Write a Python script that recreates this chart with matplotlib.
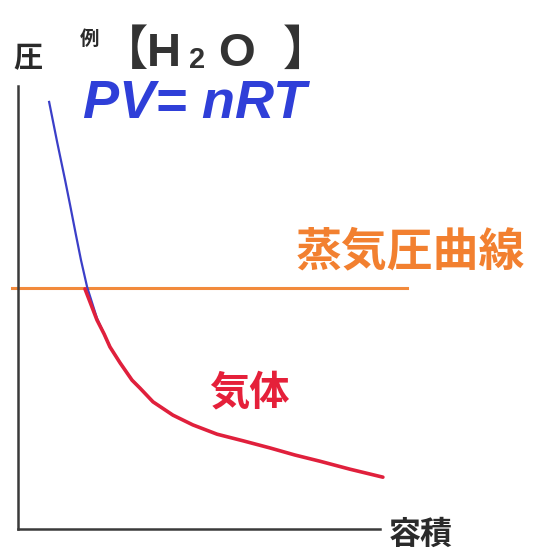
import matplotlib
matplotlib.use("Agg")
import matplotlib.pyplot as plt

plt.rcParams["font.family"] = ["Noto Sans CJK JP", "DejaVu Sans"]

# ideal gas curve (PV = nRT), arbitrary units: volume 0..10, pressure 0..10
vol_ideal = [0.86, 0.97, 1.08, 1.19, 1.30, 1.44, 1.60, 1.74, 1.91,
             2.18, 2.54, 2.82, 3.15, 3.37, 3.73, 4.28]
pres_ideal = [9.64, 9.19, 8.74, 8.31, 7.88, 7.31, 6.64, 6.07, 5.46,
              4.76, 4.11, 3.75, 3.36, 3.18, 2.87, 2.57]

# real gas (H2O) below the vapour pressure
vol_gas = [1.85, 2.02, 2.18, 2.38, 2.54, 2.82, 3.15, 3.37, 3.73, 4.28,
           4.83, 5.50, 6.22, 6.96, 7.65, 8.34, 9.17, 10.08]
pres_gas = [5.42, 5.06, 4.72, 4.40, 4.11, 3.75, 3.36, 3.18, 2.87, 2.57,
            2.35, 2.14, 1.99, 1.83, 1.67, 1.53, 1.35, 1.17]

# vapour pressure line
vapor_p = 5.44
vapor_v = [-0.17, 10.75]

W, H = 540, 551
fig = plt.figure(figsize=(W / 100, H / 100), dpi=100)
ax = fig.add_axes([18 / W, 1 - 529 / H, 362 / W, 443 / H])
ax.set_xlim(0, 10)
ax.set_ylim(0, 10)
for s in ["top", "right"]:
    ax.spines[s].set_visible(False)
for s in ["left", "bottom"]:
    ax.spines[s].set_color("#3a3a3a")
    ax.spines[s].set_linewidth(1.8)
ax.set_xticks([])
ax.set_yticks([])

ax.plot(vapor_v, [vapor_p, vapor_p], color="#f28a3c", lw=2.2, clip_on=False)
ax.plot(vol_ideal, pres_ideal, color="#3b3fc8", lw=1.6, clip_on=False,
        solid_joinstyle="round")
ax.plot(vol_gas, pres_gas, color="#e0203c", lw=2.6, clip_on=False,
        solid_capstyle="round", solid_joinstyle="round")


def ftext(x, y, s, **kw):
    fig.text(x / W, 1 - y / H, s, ha="center", va="center", **kw)


dark = "#333333"
latin = ["Liberation Sans", "DejaVu Sans"]
ftext(28, 58, "圧", fontsize=21, fontweight="bold", color="#2a2a2a")
ftext(421, 535, "容積", fontsize=23, fontweight="bold", color="#2a2a2a")
ftext(90, 39, "例", fontsize=14, fontweight="bold", color="#2a2a2a")
ftext(124, 51, "【", fontsize=34, fontweight="bold", color=dark)
ftext(164, 54, "H", fontsize=34, fontweight="bold", color=dark, family=latin)
ftext(197, 60, "2", fontsize=21, fontweight="bold", color=dark, family=latin)
ftext(237, 54, "O", fontsize=34, fontweight="bold", color=dark, family=latin)
ftext(306, 51, "】", fontsize=34, fontweight="bold", color=dark)
ftext(195, 104, "PV= nRT", fontsize=39, fontweight="bold", style="italic",
      color="#2f3fd8", family=["Liberation Sans Narrow", "Liberation Sans"])
ftext(410, 252, "蒸気圧曲線", fontsize=33, fontweight="bold", color="#f28030")
ftext(249, 393, "気体", fontsize=29, fontweight="bold", color="#e5203a")

fig.savefig("out.png", dpi=100)
